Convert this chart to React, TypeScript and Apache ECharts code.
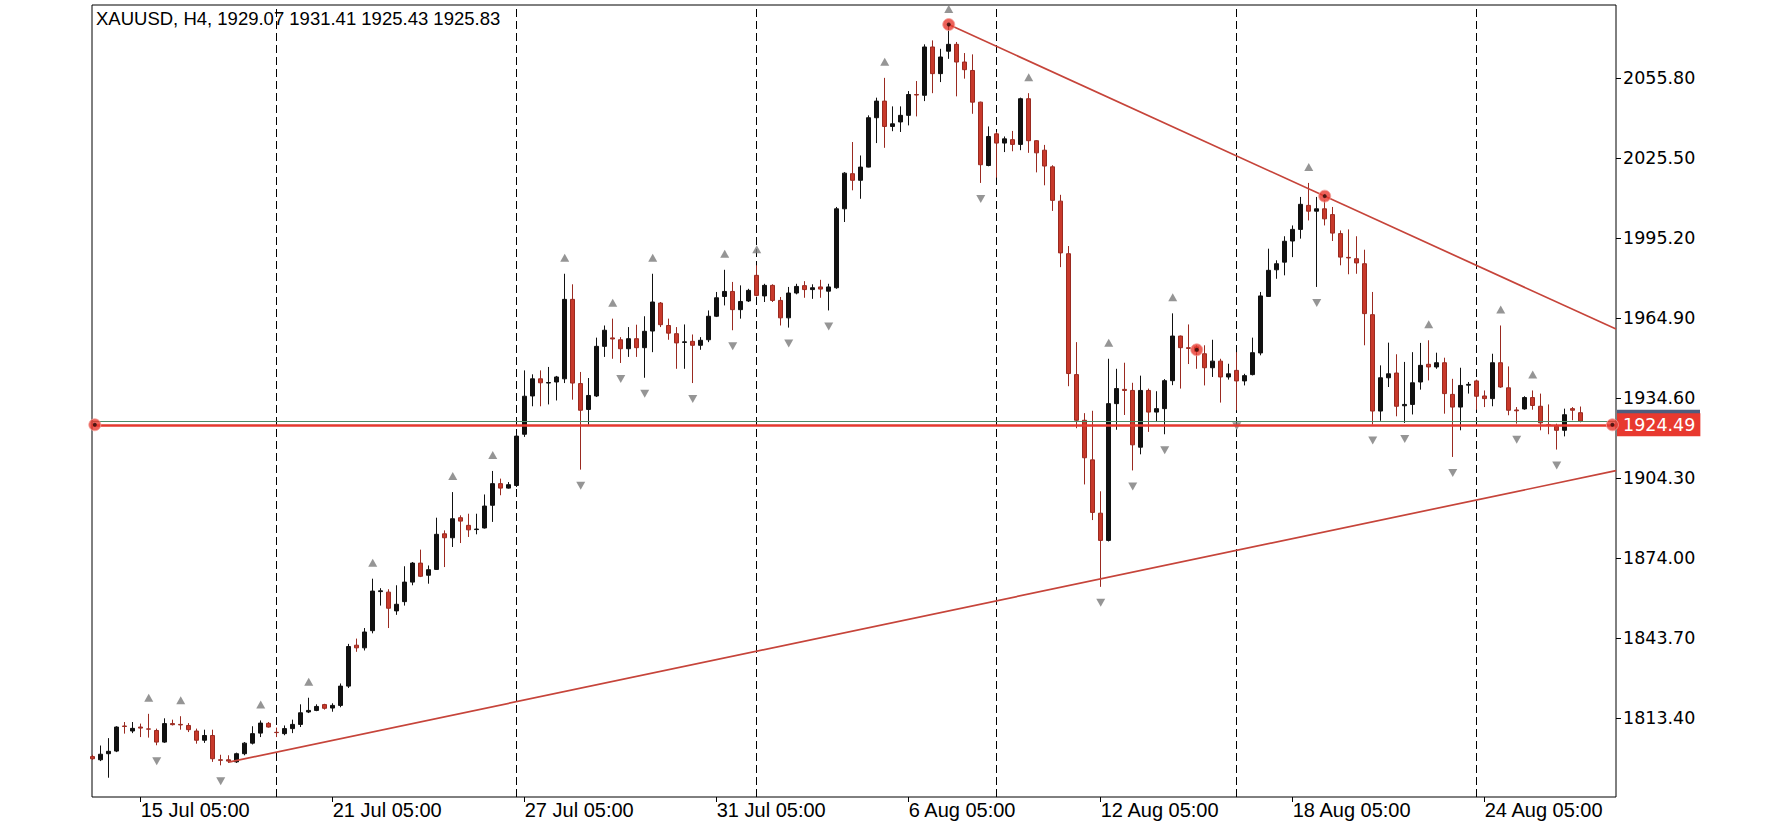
import React, { useEffect, useRef } from "react";
import * as echarts from "echarts";

const symbolName = "XAUUSD";
const timeframe = "H4";

const open = [
  1798.8, 1797.6, 1799.9, 1800.9, 1810.4, 1808.5, 1810.0, 1809.3, 1808.7, 1804.3,
  1811.3, 1811.0, 1810.6, 1808.5, 1805.0, 1806.8, 1797.6, 1797.6, 1796.8, 1799.9,
  1803.9, 1807.7, 1811.4, 1808.0, 1807.5, 1809.4, 1811.0, 1815.7, 1816.3, 1818.5,
  1817.2, 1818.2, 1825.5, 1841.0, 1840.0, 1846.5, 1861.3, 1861.1, 1854.0, 1857.5,
  1864.9, 1872.1, 1867.5, 1869.7, 1883.2, 1881.7, 1889.3, 1886.4, 1884.8, 1885.4,
  1894.0, 1902.2, 1900.5, 1901.5, 1920.9, 1935.4, 1941.9, 1940.3, 1940.7, 1941.9,
  1972.0, 1940.1, 1930.3, 1935.4, 1954.2, 1957.4, 1956.7, 1953.3, 1957.1, 1953.7,
  1960.0, 1970.6, 1962.1, 1959.0, 1955.7, 1956.1, 1954.6, 1956.7, 1965.6, 1973.1,
  1975.0, 1968.1, 1971.4, 1981.1, 1973.3, 1977.3, 1971.6, 1965.0, 1974.4, 1977.2,
  1975.7, 1976.7, 1975.1, 1976.4, 2006.3, 2019.6, 2017.1, 2022.1, 2040.8, 2047.1,
  2037.5, 2039.2, 2041.7, 2049.6, 2049.3, 2067.6, 2057.5, 2066.0, 2068.6, 2061.9,
  2058.7, 2046.7, 2022.7, 2034.7, 2031.2, 2032.5, 2030.7, 2048.0, 2032.1, 2028.5,
  2022.2, 2009.2, 1989.3, 1943.5, 1926.2, 1911.2, 1891.0, 1880.7, 1932.5, 1937.9,
  1937.5, 1916.0, 1937.5, 1929.3, 1930.6, 1941.2, 1958.1, 1953.7, 1954.0, 1951.4,
  1946.1, 1948.6, 1942.6, 1945.1, 1941.1, 1943.5, 1951.7, 1973.1, 1983.2, 1986.1,
  1994.1, 1998.5, 2007.6, 2005.4, 2006.3, 2004.1, 1996.9, 1987.9, 1987.4, 1985.5,
  1966.2, 1929.7, 1942.3, 1944.1, 1931.7, 1932.2, 1940.7, 1947.4, 1946.4, 1948.0,
  1936.0, 1931.2, 1939.5, 1941.1, 1935.4, 1934.4, 1948.0, 1938.5, 1930.1, 1930.5,
  1934.8, 1931.5, 1924.5, 1923.9, 1922.4, 1930.6, 1929.07,
];
const high = [
  1799.5, 1803.0, 1805.8, 1810.3, 1811.9, 1811.9, 1811.3, 1815.0, 1809.4, 1813.3,
  1812.8, 1814.1, 1811.5, 1809.4, 1809.0, 1809.0, 1799.5, 1799.3, 1800.3, 1804.3,
  1810.3, 1812.5, 1811.9, 1809.8, 1810.6, 1812.8, 1818.6, 1821.1, 1818.6, 1818.8,
  1819.0, 1826.5, 1841.5, 1843.5, 1847.5, 1866.2, 1862.6, 1862.2, 1863.7, 1870.9,
  1872.5, 1877.2, 1871.2, 1889.3, 1884.5, 1899.0, 1890.2, 1890.8, 1890.8, 1898.1,
  1907.0, 1904.1, 1902.8, 1921.1, 1945.1, 1943.6, 1945.1, 1946.4, 1943.0, 1981.7,
  1977.7, 1944.5, 1942.2, 1957.5, 1962.1, 1964.7, 1957.7, 1961.5, 1962.4, 1965.6,
  1981.7, 1971.0, 1964.7, 1961.5, 1962.5, 1958.7, 1957.7, 1967.8, 1974.8, 1983.2,
  1978.6, 1977.3, 1976.0, 1984.9, 1977.9, 1977.7, 1972.9, 1976.7, 1977.9, 1978.9,
  1977.7, 1979.4, 1977.9, 2007.0, 2020.2, 2031.6, 2026.5, 2041.7, 2048.4, 2055.9,
  2045.1, 2045.1, 2050.9, 2054.7, 2068.6, 2070.1, 2066.9, 2075.9, 2069.5, 2065.3,
  2064.8, 2046.9, 2037.5, 2035.4, 2033.7, 2035.8, 2048.4, 2050.1, 2032.3, 2030.5,
  2022.8, 2011.6, 1992.2, 1955.8, 1928.9, 1929.8, 1899.3, 1949.5, 1945.7, 1948.0,
  1940.4, 1943.1, 1938.2, 1937.2, 1941.8, 1966.7, 1958.3, 1962.5, 1954.6, 1954.6,
  1956.7, 1949.5, 1947.6, 1952.0, 1943.8, 1957.5, 1974.8, 1991.2, 1986.8, 1995.9,
  2000.0, 2010.8, 2016.1, 2010.8, 2009.5, 2007.0, 1998.1, 1998.5, 1995.9, 1990.8,
  1974.8, 1947.0, 1955.6, 1951.2, 1948.3, 1952.0, 1955.5, 1956.5, 1951.8, 1949.9,
  1941.9, 1946.1, 1940.7, 1941.6, 1937.5, 1951.4, 1962.1, 1946.6, 1931.2, 1935.3,
  1937.5, 1936.3, 1932.2, 1924.9, 1930.6, 1931.2, 1931.41,
];
const low = [
  1797.5, 1797.1, 1790.8, 1800.5, 1807.5, 1807.7, 1806.2, 1806.0, 1803.1, 1804.0,
  1810.6, 1809.0, 1808.1, 1803.7, 1804.0, 1796.8, 1795.5, 1796.4, 1796.4, 1799.3,
  1803.4, 1806.2, 1809.8, 1806.2, 1806.9, 1807.7, 1810.0, 1815.3, 1816.0, 1816.6,
  1815.8, 1817.5, 1824.8, 1838.5, 1839.0, 1845.5, 1856.0, 1847.5, 1852.5, 1856.0,
  1863.7, 1866.8, 1864.3, 1869.5, 1870.6, 1878.2, 1879.7, 1882.0, 1883.0, 1885.2,
  1887.7, 1897.8, 1900.3, 1900.9, 1919.9, 1931.5, 1931.5, 1932.2, 1933.7, 1940.3,
  1934.0, 1907.5, 1924.5, 1935.0, 1950.2, 1949.5, 1947.9, 1950.2, 1950.2, 1942.3,
  1952.0, 1961.5, 1956.7, 1945.7, 1945.7, 1940.3, 1952.9, 1955.8, 1965.3, 1969.7,
  1960.3, 1964.7, 1971.0, 1973.1, 1971.0, 1971.0, 1962.1, 1961.3, 1973.9, 1972.6,
  1972.2, 1972.6, 1967.8, 1976.0, 2001.3, 2013.3, 2010.1, 2022.0, 2031.2, 2029.4,
  2035.7, 2035.4, 2037.9, 2041.3, 2047.1, 2050.1, 2054.3, 2063.1, 2048.9, 2055.6,
  2042.3, 2016.1, 2022.4, 2018.1, 2027.8, 2028.1, 2028.5, 2027.5, 2020.1, 2015.2,
  2005.5, 1984.2, 1939.1, 1923.2, 1901.9, 1888.4, 1863.1, 1880.3, 1922.6, 1928.2,
  1907.2, 1913.3, 1921.8, 1925.6, 1920.9, 1939.5, 1938.2, 1947.5, 1945.7, 1939.4,
  1942.6, 1932.9, 1941.6, 1930.0, 1939.4, 1943.2, 1950.8, 1973.0, 1979.8, 1981.1,
  1988.0, 1995.0, 2001.9, 1976.7, 2000.0, 1994.1, 1984.9, 1981.5, 1981.7, 1954.6,
  1924.6, 1926.0, 1938.8, 1927.7, 1925.2, 1928.4, 1937.8, 1941.3, 1945.7, 1928.7,
  1912.3, 1922.4, 1936.3, 1930.2, 1931.2, 1931.5, 1938.5, 1928.1, 1924.9, 1930.2,
  1930.2, 1922.4, 1920.9, 1915.1, 1920.1, 1926.2, 1925.43,
];
const close = [
  1798.0, 1799.7, 1800.8, 1810.0, 1810.2, 1809.5, 1809.6, 1809.2, 1804.3, 1811.3,
  1810.9, 1810.8, 1809.0, 1805.0, 1806.8, 1798.0, 1797.4, 1797.1, 1799.9, 1803.9,
  1807.5, 1811.5, 1810.0, 1807.9, 1809.4, 1811.0, 1815.4, 1816.3, 1817.8, 1817.1,
  1818.2, 1825.5, 1840.5, 1840.0, 1846.0, 1861.5, 1861.6, 1855.0, 1856.5, 1864.9,
  1872.1, 1867.1, 1869.6, 1883.0, 1881.7, 1888.9, 1888.0, 1884.7, 1885.0, 1893.7,
  1902.2, 1900.5, 1901.8, 1920.2, 1935.3, 1941.9, 1940.4, 1940.5, 1942.6, 1972.0,
  1940.3, 1930.0, 1935.6, 1954.2, 1960.3, 1957.0, 1953.3, 1957.1, 1953.7, 1959.9,
  1971.0, 1962.4, 1959.2, 1955.5, 1955.9, 1954.6, 1956.5, 1965.6, 1972.6, 1975.0,
  1968.1, 1971.2, 1975.4, 1973.5, 1977.3, 1971.6, 1965.0, 1974.4, 1976.9, 1975.7,
  1976.4, 1975.9, 1976.7, 2006.3, 2019.8, 2017.1, 2022.1, 2040.8, 2047.1, 2037.5,
  2038.5, 2041.7, 2049.6, 2049.4, 2067.6, 2057.5, 2063.8, 2068.6, 2061.9, 2059.0,
  2046.7, 2023.0, 2033.7, 2031.2, 2032.8, 2030.7, 2048.0, 2032.1, 2027.5, 2022.5,
  2009.5, 1989.6, 1943.9, 1926.2, 1912.0, 1891.3, 1880.7, 1932.5, 1938.2, 1937.5,
  1916.9, 1937.5, 1929.3, 1930.6, 1941.2, 1958.1, 1953.7, 1953.4, 1952.3, 1946.1,
  1948.6, 1942.6, 1943.8, 1941.1, 1943.1, 1951.8, 1973.3, 1983.0, 1985.5, 1994.0,
  1998.5, 2008.0, 2005.4, 2006.3, 2002.5, 1997.1, 1988.0, 1987.7, 1985.8, 1966.6,
  1929.7, 1942.3, 1943.8, 1931.5, 1932.2, 1940.4, 1947.0, 1946.4, 1948.0, 1936.3,
  1931.2, 1939.4, 1939.8, 1935.3, 1934.4, 1948.0, 1938.8, 1930.0, 1929.8, 1934.8,
  1931.8, 1925.2, 1924.3, 1922.4, 1928.3, 1930.0, 1925.83,
];

const xTickBars = [6, 30, 54, 78, 102, 126, 150, 174];
const xTickLabels = [
  "15 Jul 05:00", "21 Jul 05:00", "27 Jul 05:00", "31 Jul 05:00",
  "6 Aug 05:00", "12 Aug 05:00", "18 Aug 05:00", "24 Aug 05:00",
];
const yTickValues = [1813.4, 1843.7, 1874.0, 1904.3, 1934.6, 1964.9, 1995.2, 2025.5, 2055.8];
const separatorBars = [23, 53, 83, 113, 143, 173];
const upFractalBars = [7, 11, 21, 27, 35, 45, 50, 59, 65, 70, 79, 83, 99, 107, 117, 127, 135, 152, 167, 176, 180];
const downFractalBars = [8, 16, 61, 66, 69, 75, 80, 87, 92, 111, 126, 130, 134, 143, 153, 160, 164, 170, 178, 183];
const upperTrendPoints = [[107, 2076.1], [154, 2011.1]];
const lowerTrendPoints = [[17, 1796.7], [126, 1866.1]];
const anchorPoints = [[107, 2076.1], [154, 2011.1], [138, 1952.9]];
const bidPrice = 1925.83;
const levelPrice = 1924.49;

const X_MIN = -0.09;
const X_MAX = 190.41;
const Y_MIN = 1783.5;
const Y_MAX = 2083.5;

function extend(points: number[][]): number[][] {
  const [a, b] = points;
  const slope = (b[1] - a[1]) / (b[0] - a[0]);
  return [a, [X_MAX, a[1] + slope * (X_MAX - a[0])]];
}

const RED = "#c8392b";
const LINE_RED = "#c6443a";

export default function App() {
  const ref = useRef<HTMLDivElement>(null);
  useEffect(() => {
    if (!ref.current) return;
    const chart = echarts.init(ref.current, undefined, { renderer: "svg" });
    const last = open.length - 1;
    const header = `${symbolName}, ${timeframe}, ${open[last].toFixed(2)} ${high[last].toFixed(2)} ${low[last].toFixed(2)} ${close[last].toFixed(2)}`;
    const candles = open.map((o, i) => [i, o, close[i], low[i], high[i]]);
    const levelEnds = [[X_MIN + 0.35, levelPrice], [X_MAX - 0.45, levelPrice]];

    chart.setOption({
      animation: false,
      backgroundColor: "#ffffff",
      grid: {
        left: 92,
        top: 5,
        width: 1524,
        height: 792,
        show: true,
        borderColor: "#000",
        borderWidth: 1,
        backgroundColor: "transparent",
      },
      xAxis: {
        type: "value",
        min: X_MIN,
        max: X_MAX,
        splitLine: { show: false },
        axisLine: { show: false, onZero: false },
        axisTick: {
          show: true,
          customValues: xTickBars,
          length: 5,
          lineStyle: { color: "#000" },
        },
        axisLabel: {
          customValues: xTickBars,
          formatter: (v: number) => xTickLabels[xTickBars.indexOf(Math.round(v))] ?? "",
          align: "left",
          color: "#000",
          fontFamily: "Liberation Sans",
          fontSize: 20,
          margin: 3,
        },
      },
      yAxis: {
        type: "value",
        position: "right",
        min: Y_MIN,
        max: Y_MAX,
        splitLine: { show: false },
        axisLine: { show: false, onZero: false },
        axisTick: {
          show: true,
          customValues: yTickValues,
          length: 5,
          lineStyle: { color: "#000" },
        },
        axisLabel: {
          customValues: yTickValues,
          formatter: (v: number) => v.toFixed(2),
          color: "#000",
          fontFamily: "DejaVu Sans",
          fontSize: 17.5,
          margin: 7,
        },
      },
      graphic: [
        {
          type: "text",
          left: 96,
          top: 9,
          style: {
            text: header,
            fill: "#000",
            fontFamily: "Liberation Sans",
            fontSize: 18.5,
          },
        },
      ],
      series: [
        {
          type: "candlestick",
          data: candles,
          barWidth: 4,
          clip: true,
          itemStyle: {
            color: "#111",
            color0: RED,
            borderColor: "#111",
            borderColor0: "#9a2a20",
            borderWidth: 1,
          },
          markLine: {
            silent: true,
            symbol: "none",
            label: { show: false },
            lineStyle: { color: "#000", width: 1, type: [8, 4] },
            data: separatorBars.map((b) => ({ xAxis: b })),
            z: 1,
          },
        },
        {
          type: "scatter",
          data: upFractalBars.map((i) => [i, high[i]]),
          symbol: "triangle",
          symbolSize: [9, 8],
          symbolOffset: [0, -16],
          itemStyle: { color: "#7a7a7a" },
          clip: true,
        },
        {
          type: "scatter",
          data: downFractalBars.map((i) => [i, low[i]]),
          symbol: "triangle",
          symbolRotate: 180,
          symbolSize: [9, 8],
          symbolOffset: [0, 16],
          itemStyle: { color: "#7a7a7a" },
          clip: true,
        },
        {
          type: "line",
          data: extend(upperTrendPoints),
          symbol: "none",
          clip: true,
          lineStyle: { color: LINE_RED, width: 1.7 },
        },
        {
          type: "line",
          data: extend(lowerTrendPoints),
          symbol: "none",
          clip: true,
          lineStyle: { color: LINE_RED, width: 1.7 },
        },
        {
          type: "line",
          data: [],
          symbol: "none",
          markLine: {
            silent: true,
            symbol: "none",
            lineStyle: { color: "#4d8a66", width: 1, type: "solid" },
            label: {
              show: true,
              position: "end",
              distance: 1,
              formatter: " ",
              width: 72,
              height: 18,
              backgroundColor: "#4e5d7e",
              padding: [3, 5, 2, 6],
            },
            data: [{ yAxis: bidPrice }],
          },
        },
        {
          type: "line",
          data: [],
          symbol: "none",
          markLine: {
            silent: true,
            symbol: "none",
            lineStyle: { color: "#e53a2f", width: 2.5, type: "solid" },
            label: {
              show: true,
              position: "end",
              distance: 1,
              formatter: levelPrice.toFixed(2),
              backgroundColor: "#e8392f",
              color: "#fff",
              fontFamily: "DejaVu Sans",
              fontSize: 17.5,
              padding: [3, 5, 2, 6],
            },
            data: [{ yAxis: levelPrice }],
          },
        },
        {
          type: "scatter",
          data: [...anchorPoints, ...levelEnds],
          symbol: "circle",
          symbolSize: 12,
          itemStyle: { color: "#e8392f", borderColor: "#f4a39c", borderWidth: 1 },
          clip: false,
          z: 5,
        },
        {
          type: "scatter",
          data: [...anchorPoints, ...levelEnds],
          symbol: "circle",
          symbolSize: 4,
          itemStyle: { color: "#2a0a08" },
          clip: false,
          z: 6,
        },
      ],
    });
    return () => chart.dispose();
  }, []);

  return (
    <div
      ref={ref}
      style={{ position: "absolute", left: 0, top: 0, width: 1792, height: 828 }}
    />
  );
}
